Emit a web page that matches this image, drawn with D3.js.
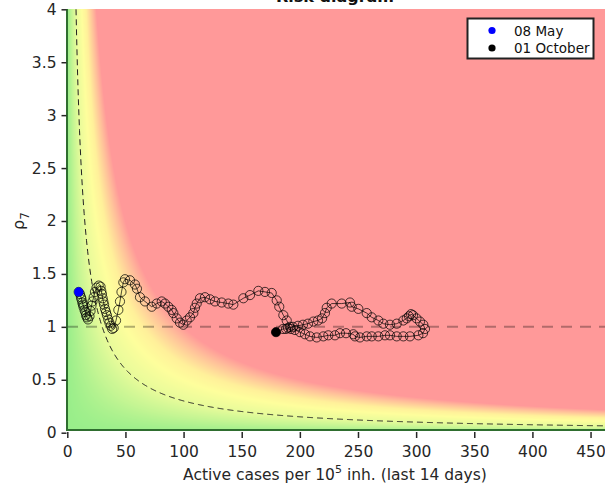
<!DOCTYPE html>
<html><head><meta charset="utf-8">
<script src="https://cdn.jsdelivr.net/npm/d3@7"></script>
<style>body{margin:0;background:#fff}svg{display:block;font-family:"DejaVu Sans",sans-serif}</style>
</head><body><svg id="c" width="605" height="488"></svg>
<script>
const trajX=[9.8,10.9,11.8,12.2,12.9,13.5,13.9,14.8,15.5,16.1,16.9,17.8,
19.1,20.0,20.8,21.7,22.7,23.8,25.1,27.0,28.6,
29.2,29.8,30.4,31.0,31.6,32.4,33.3,34.1,35.2,36.2,37.4,38.6,39.9,
41.9,43.9,45.3,46.6,48.2,49.6,
53.9,58.2,59.9,62.5,66.8,72.6,76.9,81.2,84.0,86.9,89.8,91.2,94.1,96.9,99.8,102.7,105.5,108.4,109.8,111.3,114.1,118.4,122.7,127.0,132.8,138.5,142.8,151.4,157.1,164.3,170.0,175.8,180.1,182.3,185.8,188.7,191.5,189.8,
194.1,198.4,202.7,207.0,211.6,215.6,219.1,221.6,223.1,227.4,236.0,243.1,244.6,250.3,257.5,261.8,267.5,271.8,277.5,283.3,289.0,291.9,293.9,295.6,297.3,300.3,303.3,306.2,307.6,305.9,301.9,
294.7,289.0,283.3,277.5,273.2,267.5,261.8,257.5,251.7,247.4,246.0,239.7,234.5,230.2,224.5,220.2,214.5,208.7,204.4,200.1,195.8,192.4,188.1,185.5,179.5];
const trajRho=[1.33,1.31,1.28,1.26,1.23,1.21,1.19,1.16,1.14,1.11,1.09,1.07,
1.10,1.15,1.20,1.24,1.28,1.33,1.37,1.39,1.38,
1.34,1.31,1.27,1.24,1.21,1.17,1.14,1.11,1.07,1.04,1.01,0.98,0.99,
1.06,1.16,1.24,1.33,1.42,1.45,
1.44,1.40,1.36,1.28,1.24,1.19,1.22,1.24,1.22,1.19,1.16,1.13,1.08,1.04,1.02,1.06,1.09,1.13,1.18,1.22,1.27,1.28,1.26,1.24,1.23,1.22,1.21,1.27,1.30,1.34,1.33,1.32,1.25,1.19,1.11,1.06,1.00,0.99,
1.00,1.01,1.02,1.03,1.05,1.06,1.08,1.13,1.18,1.22,1.22,1.23,1.19,1.17,1.13,1.09,1.06,1.03,1.02,1.03,1.06,1.08,1.10,1.12,1.11,1.08,1.05,1.02,0.98,0.94,0.92,
0.91,0.91,0.91,0.92,0.92,0.91,0.91,0.91,0.90,0.91,0.93,0.94,0.94,0.92,0.92,0.91,0.90,0.91,0.93,0.95,0.97,0.98,0.98,0.98,0.95];
const xTicks=[0,50,100,150,200,250,300,350,400,450];
const yTicks=[0,0.5,1,1.5,2,2.5,3,3.5,4];
const legendLabels=["08 May","01 October"];
const legendColors=["#0000ff","#000000"];
const isoLevel=30;          // dashed iso-risk curve (cases x rho)
const riskStops=[0,15,30,50,65,85,100];
const riskColors=["#98ee8a","#c4f593","#e8fb9a","#fefe9c","#fff09a","#ffc09a","#ff9999"];

const svg=d3.select("#c");
const x=d3.scaleLinear().domain([0,462]).range([67.3,604.5]);
const y=d3.scaleLinear().domain([0,4]).range([432.7,9.3]);
const col=d3.scaleLinear().domain(riskStops).range(riskColors).clamp(true);

// background risk map
const bx0=67,bx1=605,by0=9,by1=430;
const cw=bx1-bx0,ch=by1-by0;
const cv=document.createElement("canvas");cv.width=cw;cv.height=ch;
const ctx=cv.getContext("2d");const img=ctx.createImageData(cw,ch);
for(let j=0;j<ch;j++){const r=Math.max(0,y.invert(by0+j+0.5));
 for(let i=0;i<cw;i++){const xv=Math.max(0,x.invert(bx0+i+0.5));
  const c=d3.rgb(col(xv*r));const k=(j*cw+i)*4;
  img.data[k]=c.r;img.data[k+1]=c.g;img.data[k+2]=c.b;img.data[k+3]=255;}}
ctx.putImageData(img,0,0);
svg.append("image").attr("x",bx0).attr("y",by0).attr("width",cw).attr("height",ch)
 .attr("href",cv.toDataURL());

// rho = 1 line
svg.append("line").attr("x1",bx0).attr("x2",bx1).attr("y1",y(1)).attr("y2",y(1))
 .attr("stroke","#000").attr("stroke-opacity",0.3).attr("stroke-width",2).attr("stroke-dasharray","11,8");

// iso curve
const isoX=d3.range(isoLevel/4,462.5,0.5);
svg.append("path").datum(isoX)
 .attr("d",d3.line().x(d=>x(d)).y(d=>y(isoLevel/d)))
 .attr("fill","none").attr("stroke","#222").attr("stroke-width",1).attr("stroke-dasharray","6,4");

// trajectory
const pts=trajX.map((d,i)=>[d,trajRho[i]]);
svg.append("path").datum(pts).attr("d",d3.line().x(d=>x(d[0])).y(d=>y(d[1])))
 .attr("fill","none").attr("stroke","#000").attr("stroke-width",0.7);
svg.append("g").selectAll("circle").data(pts).join("circle")
 .attr("cx",d=>x(d[0])).attr("cy",d=>y(d[1])).attr("r",4.6)
 .attr("fill","none").attr("stroke","#000").attr("stroke-opacity",0.8).attr("stroke-width",0.9);
svg.append("circle").attr("cx",x(pts[0][0])).attr("cy",y(pts[0][1])).attr("r",4.6).attr("fill",legendColors[0]);
const last=pts[pts.length-1];
svg.append("circle").attr("cx",x(last[0])).attr("cy",y(last[1])).attr("r",4.6).attr("fill",legendColors[1]);

// spines
svg.append("line").attr("x1",67).attr("x2",67).attr("y1",by0).attr("y2",431).attr("stroke","#2f6e2f").attr("stroke-width",2);
svg.append("line").attr("x1",66).attr("x2",605).attr("y1",430).attr("y2",430).attr("stroke","#2f6e2f").attr("stroke-width",2);

// axes
const xa=svg.append("g").attr("transform","translate(0,432)")
 .call(d3.axisBottom(x).tickValues(xTicks).tickSize(6).tickPadding(8).tickFormat(d3.format("d")));
const ya=svg.append("g").attr("transform","translate(66.5,0)")
 .call(d3.axisLeft(y).tickValues(yTicks).tickSize(5).tickPadding(5).tickFormat(d=>String(d)));
[xa,ya].forEach(a=>{a.select(".domain").remove();
 a.selectAll(".tick line").attr("stroke","#262626").attr("stroke-width",1.5);
 a.selectAll(".tick text").attr("fill","#262626").style("font-size","15.5px").style("font-family","DejaVu Sans");});

// labels
const xl=svg.append("text").attr("x",335).attr("y",480).attr("text-anchor","middle")
 .attr("fill","#262626").style("font-size","15.5px");
xl.append("tspan").text("Active cases per 10");
xl.append("tspan").attr("dy",-7).style("font-size","11px").text("5");
xl.append("tspan").attr("dy",7).text(" inh. (last 14 days)");
const yl=svg.append("text").attr("transform","translate(24,221) rotate(-90)").attr("text-anchor","middle")
 .attr("fill","#262626").style("font-size","16px");
yl.append("tspan").text("ρ");
yl.append("tspan").attr("dy",5).style("font-size","12px").text("7");
svg.append("text").attr("x",335).attr("y",1.5).attr("text-anchor","middle").attr("font-weight","bold")
 .attr("fill","#111").style("font-size","16px").text("Risk diagram");

// legend
const lg=svg.append("g");
lg.append("rect").attr("x",467.5).attr("y",18.5).attr("width",126).attr("height",40)
 .attr("fill","#fff").attr("stroke","#222").attr("stroke-width",2);
legendLabels.forEach((t,i)=>{
 lg.append("circle").attr("cx",492).attr("cy",30.5+i*17.5).attr("r",3.6).attr("fill",legendColors[i]);
 lg.append("text").attr("x",514).attr("y",35.5+i*17.5).attr("fill","#111").style("font-size","13.5px").text(t);
});
</script></body></html>
